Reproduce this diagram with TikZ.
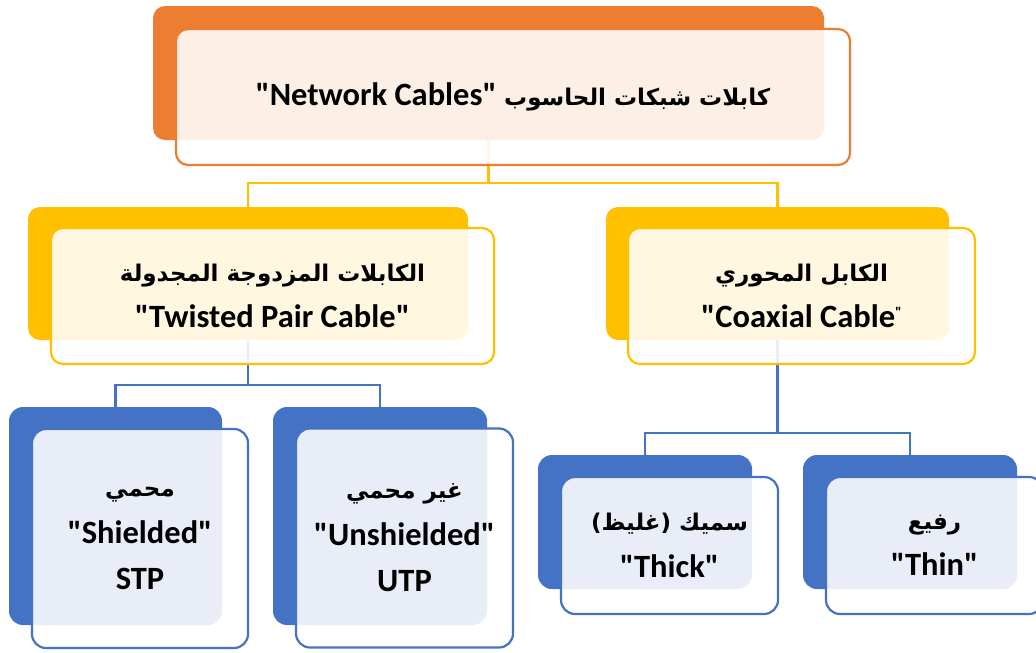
\documentclass[tikz,border=0pt]{standalone}
\usepackage{fontspec}
\setmainfont{Carlito}[Ligatures=TeXOff]
\newfontfamily\arfont[Script=Arabic]{DejaVu Sans}
\TeXXeTstate=1
\definecolor{corange}{HTML}{ED7D31}
\definecolor{cyellow}{HTML}{FFC000}
\definecolor{cblue}{HTML}{4472C4}
\begin{document}
\begin{tikzpicture}[x=1pt,y=-1pt,
  back/.style={rectangle,rounded corners=12pt,inner sep=0pt,draw=none},
  front/.style={rectangle,rounded corners=12pt,inner sep=0pt,line width=2.2pt,
    fill=white,fill opacity=0.88,text opacity=1,align=center,
    font=\fontsize{32.5}{46.5}\selectfont\bfseries},
  orangeback/.style={back,fill=corange},
  yellowback/.style={back,fill=cyellow},
  blueback/.style={back,fill=cblue,rounded corners=14pt},
  orangefront/.style={front,draw=corange},
  yellowfront/.style={front,draw=cyellow},
  bluefront/.style={front,draw=cblue,rounded corners=14pt},
  ycon/.style={draw=cyellow,line width=2.2pt},
  bcon/.style={draw=cblue,line width=2.2pt}]
\useasboundingbox (0,0) rectangle (1036,653);
\clip (0,0) rectangle (1036,653);
\newcommand{\ar}[1]{{\arfont\fontsize{23}{46.5}\selectfont\beginR #1\endR}}
% back rectangles
\node[orangeback,minimum width=671pt,minimum height=134pt] (topback) at (488.5,73) {};
\node[yellowback,minimum width=440pt,minimum height=133pt] (twback) at (248,273.5) {};
\node[yellowback,minimum width=343pt,minimum height=133pt] (coback) at (777.5,273.5) {};
\node[blueback,minimum width=213pt,minimum height=218pt] (stpback) at (115.5,516) {};
\node[blueback,minimum width=214pt,minimum height=218pt] (utpback) at (380,516) {};
\node[blueback,minimum width=214pt,minimum height=134pt] (thickback) at (645,522) {};
\node[blueback,minimum width=214pt,minimum height=134pt] (thinback) at (910,522) {};
% junctions
\coordinate (j1) at (488.5,183);
\coordinate (j2) at (248,385);
\coordinate (j3) at (777.5,433);
% connectors
\draw[ycon] (topback.south) -- (j1) -| (twback.north);
\draw[ycon] (j1) -| (coback.north);
\draw[bcon] (twback.south) -- (j2) -| (stpback.north);
\draw[bcon] (j2) -| (utpback.north);
\draw[bcon] (coback.south) -- (j3) -| (thickback.north);
\draw[bcon] (j3) -| (thinback.north);
% front boxes with text
\node[orangefront,minimum width=674pt,minimum height=136pt] (topfront) at (513,97)
  {"Network Cables" \ar{كابلات شبكات الحاسوب}};
\node[yellowfront,minimum width=443pt,minimum height=136pt] (twfront) at (272.5,296)
  {\ar{الكابلات المزدوجة المجدولة}\\"Twisted Pair Cable"};
\node[yellowfront,minimum width=347pt,minimum height=136pt] (cofront) at (801.5,296)
  {\ar{الكابل المحوري}\\"Coaxial Cable{\fontsize{15}{15}\selectfont\raisebox{10pt}{"}}};
\node[bluefront,minimum width=216pt,minimum height=219pt] (stpfront) at (140,538.5)
  {\ar{محمي}\\"Shielded"\\STP};
\node[bluefront,minimum width=217pt,minimum height=219pt] (utpfront) at (404.5,538)
  {\ar{غير محمي}\\"Unshielded"\\UTP};
\node[bluefront,minimum width=217pt,minimum height=137pt] (thickfront) at (669.5,545.5)
  {\ar{سميك (غليظ)}\\"Thick"};
\node[bluefront,minimum width=217pt,minimum height=137pt] (thinfront) at (934.5,545.5)
  {\ar{رفيع}\\"Thin"};
\end{tikzpicture}
\end{document}
